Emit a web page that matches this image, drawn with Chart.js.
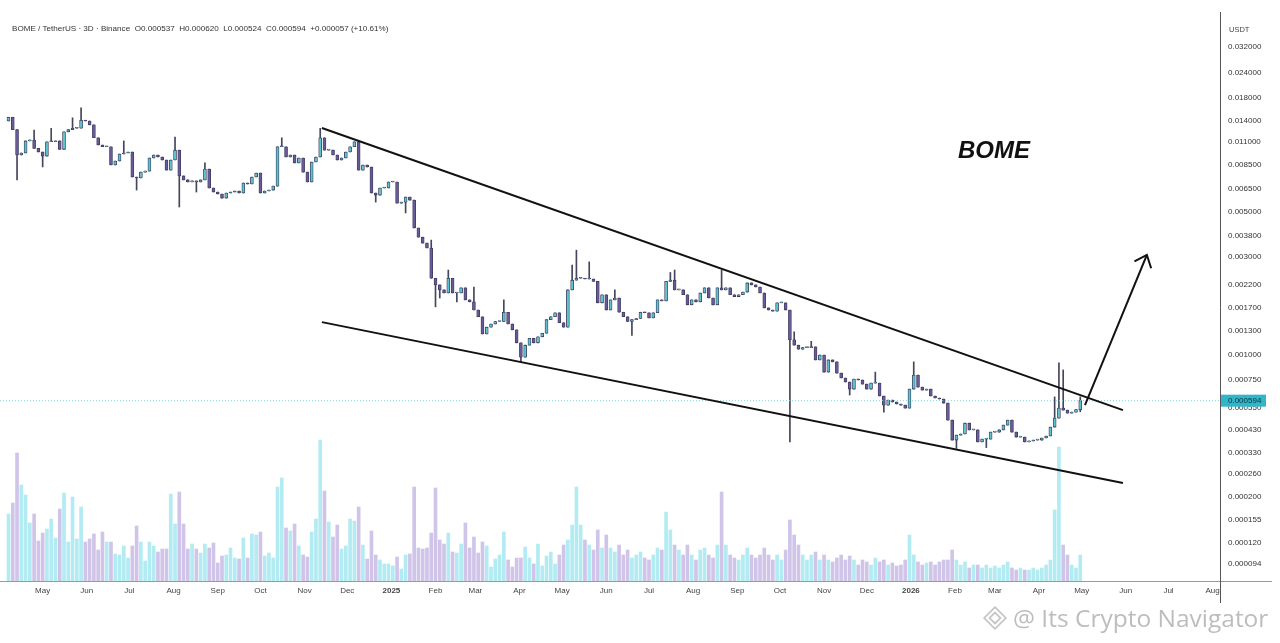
<!DOCTYPE html>
<html lang="en">
<head>
  <meta charset="UTF-8">
  <title>BOME / TetherUS 3D</title>
  <script src="https://cdn.jsdelivr.net/npm/chart.js"></script>
  <style>
    html, body { margin: 0; padding: 0; background: #fff; }
    body {
      width: 1280px; height: 643px; position: relative; overflow: hidden;
      font-family: "Liberation Sans", Arial, sans-serif;
    }
    #chart { position: absolute; left: 0; top: 0; }
    .header { position: absolute; left: 12px; top: 24px; font-size: 8.1px; color: #333; white-space: pre; }
    .unit { position: absolute; left: 1229px; top: 25px; font-size: 7.5px; color: #444; }
    .title { position: absolute; left: 958px; top: 136px; font: italic bold 24px "Liberation Sans", Arial, sans-serif; color: #111; }
    .mark { position: absolute; left: 982px; top: 601px; font-family: "Open Sans", sans-serif; font-size: 24.5px; color: #bdbdbd; white-space: pre; }
    .mark svg { vertical-align: -4px; margin-right: 5px; }
  </style>
</head>
<body>
  <canvas id="chart" width="1280" height="643"></canvas>
  <div class="header">BOME / TetherUS · 3D · Binance  O0.000537  H0.000620  L0.000524  C0.000594  +0.000057 (+10.61%)</div>
  <div class="unit">USDT</div>
  <div class="title">BOME</div>
  <div class="mark"><svg width="26" height="26" viewBox="0 0 24 24"><path d="M12 2 L22 12 L12 22 L2 12 Z M12 7 L17 12 L12 17 L7 12 Z" fill="none" stroke="#c4c4c4" stroke-width="1.6"/></svg>@ Its Crypto Navigator</div>

  <script>
    // 3D candles, first one opens 2024-04-07
    const startDate = Date.UTC(2024, 3, 7);
    const firstOpen = 0.0139;

    const closes = [
      0.0145, 0.0126, 0.00947, 0.00969, 0.0111, 0.0112, 0.0102, 0.0098, 0.00936, 0.011,
      0.011, 0.0111, 0.0101, 0.0123, 0.0126, 0.0128, 0.0128, 0.014, 0.0139, 0.0133,
      0.0115, 0.0106, 0.0104, 0.0104, 0.00846, 0.00885, 0.00958, 0.00969, 0.0098, 0.00739,
      0.00731, 0.00781, 0.0079, 0.00916, 0.00947, 0.00926, 0.00895, 0.00799, 0.00895, 0.01,
      0.00748, 0.00715, 0.00699, 0.00707, 0.00699, 0.00715, 0.00808, 0.00653, 0.00624, 0.0061,
      0.00583, 0.00617, 0.00624, 0.00631, 0.00617, 0.00691, 0.00683, 0.00739, 0.00773, 0.00617,
      0.00631, 0.00638, 0.00667, 0.0104, 0.0104, 0.00926, 0.00947, 0.00866, 0.00916, 0.00781,
      0.00699, 0.00875, 0.00926, 0.0115, 0.01, 0.01, 0.00947, 0.00895, 0.00916, 0.0098,
      0.0104, 0.011, 0.00799, 0.00846, 0.00827, 0.00617, 0.00603, 0.00653, 0.00653, 0.00699,
      0.00699, 0.0055, 0.00557, 0.0059, 0.0057, 0.00416, 0.00375, 0.00351, 0.00332, 0.00236,
      0.00219, 0.00207, 0.002, 0.00236, 0.002, 0.002, 0.00212, 0.00185, 0.00181, 0.00165,
      0.00153, 0.00126, 0.00136, 0.00141, 0.00145, 0.00145, 0.00161, 0.00141, 0.00132, 0.00114,
      0.00097, 0.00111, 0.0012, 0.00114, 0.00122, 0.00127, 0.00148, 0.00153, 0.0016, 0.00143,
      0.00136, 0.00207, 0.00231, 0.00236, 0.00236, 0.00234, 0.00234, 0.00228, 0.00179, 0.00196,
      0.00165, 0.00185, 0.00189, 0.00161, 0.00153, 0.00145, 0.00148, 0.0015, 0.00161, 0.0016,
      0.00151, 0.0016, 0.00185, 0.00183, 0.00228, 0.00231, 0.00207, 0.00207, 0.00196, 0.00175,
      0.00185, 0.00181, 0.002, 0.00212, 0.00189, 0.00175, 0.00212, 0.00207, 0.00212, 0.00196,
      0.00192, 0.00196, 0.00202, 0.00224, 0.00219, 0.00214, 0.002, 0.00169, 0.00165, 0.00163,
      0.00179, 0.00179, 0.00165, 0.00118, 0.00111, 0.00106, 0.00108, 0.00108, 0.00109, 0.00094,
      0.000994, 0.00082, 0.00094, 0.00092, 0.00081, 0.000767, 0.000733, 0.000677, 0.000758, 0.00075,
      0.000716, 0.000677, 0.000724, 0.000724, 0.000626, 0.000565, 0.000598, 0.000585, 0.000572, 0.000565,
      0.000546, 0.000677, 0.000793, 0.000692, 0.000669, 0.000677, 0.000626, 0.000612, 0.000605, 0.000578,
      0.000477, 0.000381, 0.000403, 0.000408, 0.000461, 0.000427, 0.000427, 0.000373, 0.000385, 0.000385,
      0.000417, 0.000417, 0.000427, 0.000451, 0.000477, 0.000417, 0.000394, 0.000394, 0.000373, 0.000377,
      0.000381, 0.000381, 0.00039, 0.000399, 0.000441, 0.000488, 0.000546, 0.000534, 0.000516, 0.000522,
      0.000537, 0.000594
    ];

    // long wicks that stand out: [candle, price]
    const wickHighs = [
      [6, 0.01255], [10, 0.0128], [15, 0.0144], [17, 0.0161], [27, 0.0111], [39, 0.0116],
      [46, 0.00866], [64, 0.0115], [73, 0.0128], [99, 0.00363], [103, 0.00259], [109, 0.00214],
      [116, 0.00185], [132, 0.00274], [133, 0.00324], [136, 0.00284], [142, 0.00207], [155, 0.00252],
      [156, 0.00259], [167, 0.00259], [184, 0.00129], [188, 0.00116], [203, 0.00082], [212, 0.00092],
      [245, 0.00062], [246, 0.00091], [247, 0.00084], [251, 0.00062]
    ];
    const wickLows = [
      [2, 0.00715], [8, 0.00828], [30, 0.00638], [40, 0.00527], [44, 0.00624], [86, 0.00557],
      [93, 0.00493], [100, 0.00171], [101, 0.00189], [105, 0.00181], [120, 0.00092], [146, 0.00124],
      [183, 0.000373], [197, 0.000633], [205, 0.000522], [222, 0.000347], [229, 0.00035], [251, 0.000524]
    ];

    // volume, millions BOME
    const volumes = [
      670, 780, 1280, 960, 860, 580, 670, 400, 480, 520,
      620, 430, 720, 880, 390, 840, 420, 740, 390, 420,
      470, 310, 490, 390, 390, 270, 260, 350, 230, 350,
      550, 390, 200, 390, 350, 290, 320, 320, 870, 570,
      890, 570, 320, 370, 320, 280, 370, 330, 380, 180,
      250, 260, 330, 230, 220, 430, 230, 470, 460, 490,
      250, 280, 230, 940, 1030, 530, 500, 570, 350, 260,
      240, 490, 620, 1410, 900, 590, 440, 560, 320, 350,
      620, 600, 740, 360, 220, 500, 260, 210, 170, 170,
      150, 240, 120, 260, 270, 940, 330, 320, 330, 480,
      930, 410, 370, 480, 290, 280, 370, 580, 330, 440,
      280, 390, 350, 140, 220, 260, 490, 210, 140, 230,
      230, 340, 230, 170, 370, 150, 250, 290, 170, 260,
      360, 410, 560, 940, 560, 410, 360, 310, 510, 330,
      460, 330, 290, 360, 260, 310, 230, 260, 290, 230,
      210, 260, 330, 310, 690, 510, 360, 310, 260, 360,
      260, 210, 310, 330, 260, 230, 360, 890, 360, 260,
      230, 210, 260, 330, 260, 230, 260, 330, 260, 210,
      260, 210, 310, 610, 460, 360, 260, 210, 260, 290,
      210, 260, 210, 190, 230, 260, 210, 250, 210, 160,
      210, 190, 160, 230, 190, 210, 160, 180, 150, 160,
      210, 460, 260, 190, 160, 180, 190, 160, 190, 210,
      210, 310, 210, 160, 190, 130, 160, 160, 130, 160,
      130, 150, 130, 160, 190, 130, 110, 130, 110, 110,
      130, 110, 130, 160, 210, 710, 1340, 360, 260, 160,
      130, 260
    ];

    const priceTicks = [0.032, 0.024, 0.018, 0.014, 0.011, 0.0085, 0.0065, 0.005, 0.0038, 0.003,
      0.0022, 0.0017, 0.0013, 0.001, 0.00075, 0.00055, 0.00043, 0.00033, 0.00026, 0.0002,
      0.000155, 0.00012, 0.000094];
    const monthLabels = ['May', 'Jun', 'Jul', 'Aug', 'Sep', 'Oct', 'Nov', 'Dec', '2025', 'Feb', 'Mar', 'Apr',
      'May', 'Jun', 'Jul', 'Aug', 'Sep', 'Oct', 'Nov', 'Dec', '2026', 'Feb', 'Mar', 'Apr',
      'May', 'Jun', 'Jul', 'Aug'];

    // drawn lines: [candle, price]
    const upperTrend = [[73.4, 0.01284], [261, 0.000534]];
    const lowerTrend = [[73.4, 0.00144], [261, 0.000235]];
    const arrowPath = [[252.1, 0.000565], [266.6, 0.00307]];

    const UP = '#5cc3cf', DOWN = '#6b5a9a';
    const opens = closes.map((c, i) => i === 0 ? firstOpen : closes[i - 1]);
    const isUp = closes.map((c, i) => c >= opens[i]);
    const highs = closes.map((c, i) => Math.max(c, opens[i]));
    const lows = closes.map((c, i) => Math.min(c, opens[i]));
    wickHighs.forEach(([i, v]) => { highs[i] = Math.max(highs[i], v); });
    wickLows.forEach(([i, v]) => { lows[i] = Math.min(lows[i], v); });

    const DAY = 86400000;
    const monthTicks = monthLabels.map((lab, k) => ({
      value: (Date.UTC(2024, 4 + k, 1) - startDate) / DAY / 3
    }));
    const lastClose = closes[closes.length - 1];
    const toXY = arr => arr.map(([x, y]) => ({ x, y }));

    const overlay = {
      id: 'overlay',
      afterDatasetsDraw(chart) {
        const { ctx, scales: { x, y } } = chart;
        // arrow head
        const [a, b] = arrowPath;
        const x0 = x.getPixelForValue(a[0]), y0 = y.getPixelForValue(a[1]);
        const x1 = x.getPixelForValue(b[0]), y1 = y.getPixelForValue(b[1]);
        const ang = Math.atan2(y1 - y0, x1 - x0);
        ctx.save();
        ctx.strokeStyle = '#111';
        ctx.lineWidth = 2;
        ctx.beginPath();
        ctx.moveTo(x1 - 14 * Math.cos(ang - 0.7), y1 - 14 * Math.sin(ang - 0.7));
        ctx.lineTo(x1, y1);
        ctx.lineTo(x1 - 14 * Math.cos(ang + 0.7), y1 - 14 * Math.sin(ang + 0.7));
        ctx.stroke();
        ctx.restore();
      },
      afterDraw(chart) {
        const { ctx, chartArea, scales: { y } } = chart;
        ctx.save();
        ctx.lineWidth = 1;
        ctx.strokeStyle = '#9a9a9a';
        ctx.beginPath();
        ctx.moveTo(0, chartArea.bottom + 0.5);
        ctx.lineTo(1272, chartArea.bottom + 0.5);
        ctx.stroke();
        ctx.strokeStyle = '#555';
        ctx.beginPath();
        ctx.moveTo(chartArea.right + 0.5, chartArea.top);
        ctx.lineTo(chartArea.right + 0.5, 603);
        ctx.stroke();
        // last price tag
        const py = y.getPixelForValue(lastClose);
        ctx.fillStyle = '#2fb6c9';
        ctx.fillRect(chartArea.right + 1, py - 6, 45, 12);
        ctx.fillStyle = '#10333a';
        ctx.font = '8px "Liberation Sans", Arial, sans-serif';
        ctx.textBaseline = 'middle';
        ctx.fillText(lastClose.toFixed(6), chartArea.right + 8, py + 0.5);
        ctx.restore();
      }
    };

    Chart.defaults.font.family = '"Liberation Sans", Arial, sans-serif';

    new Chart(document.getElementById('chart').getContext('2d'), {
      data: {
        datasets: [
          {
            type: 'bar', yAxisID: 'yv', order: 10, grouped: false, barThickness: 3,
            data: volumes.map((v, i) => ({ x: i, y: v })),
            backgroundColor: isUp.map(u => u ? '#b2ebf2' : '#d1c4e9')
          },
          {
            type: 'bar', yAxisID: 'y', order: 5, grouped: false, barThickness: 1,
            data: closes.map((c, i) => ({ x: i, y: [lows[i], highs[i]] })),
            backgroundColor: '#45455c'
          },
          {
            type: 'bar', yAxisID: 'y', order: 4, grouped: false, barThickness: 3, minBarLength: 1,
            data: closes.map((c, i) => ({ x: i, y: [opens[i], c] })),
            backgroundColor: isUp.map(u => u ? UP : DOWN),
            borderColor: '#3b3b5a', borderWidth: 0.8, borderSkipped: false
          },
          {
            type: 'line', yAxisID: 'y', order: 3,
            data: [{ x: -2, y: lastClose }, { x: 284, y: lastClose }],
            borderColor: '#7fd3de', borderWidth: 1, borderDash: [1, 2], pointRadius: 0
          },
          {
            type: 'line', yAxisID: 'y', order: 1, data: toXY(upperTrend),
            borderColor: '#111', borderWidth: 2, pointRadius: 0
          },
          {
            type: 'line', yAxisID: 'y', order: 1, data: toXY(lowerTrend),
            borderColor: '#111', borderWidth: 2, pointRadius: 0
          },
          {
            type: 'line', yAxisID: 'y', order: 1, data: toXY(arrowPath),
            borderColor: '#111', borderWidth: 2, pointRadius: 0
          }
        ]
      },
      options: {
        responsive: false,
        animation: false,
        layout: { padding: { top: 12, left: 0, right: 0, bottom: 0 } },
        plugins: { legend: { display: false }, tooltip: { enabled: false } },
        events: [],
        scales: {
          x: {
            type: 'linear', offset: false, min: -8.5 / 4.27, max: (1220 - 8.5) / 4.27,
            grid: { display: false, drawTicks: false }, border: { display: false },
            afterBuildTicks: s => { s.ticks = monthTicks.map(t => ({ value: t.value })); },
            afterFit: s => { s.height = 62; s.paddingLeft = 0; s.paddingRight = 0; },
            ticks: {
              autoSkip: false, maxRotation: 0, padding: 5, color: '#444',
              font: c => ({ size: 8, weight: /^\d{4}$/.test(monthLabels[c.index]) ? 'bold' : 'normal' }),
              callback: (v, i) => monthLabels[i]
            }
          },
          y: {
            type: 'logarithmic', position: 'right', min: 0.0000778, max: 0.04748, bounds: 'data',
            grid: { display: false, drawTicks: false }, border: { display: false },
            afterBuildTicks: s => { s.ticks = priceTicks.map(v => ({ value: v })); },
            afterFit: s => { s.width = 60; s.paddingTop = 0; s.paddingBottom = 0; },
            ticks: {
              autoSkip: false, padding: 8, color: '#333', font: { size: 8 },
              callback: v => Number(v).toFixed(6)
            }
          },
          yv: {
            type: 'linear', display: false, min: 0, max: 5690
          }
        }
      },
      plugins: [overlay]
    });
  </script>
</body>
</html>
